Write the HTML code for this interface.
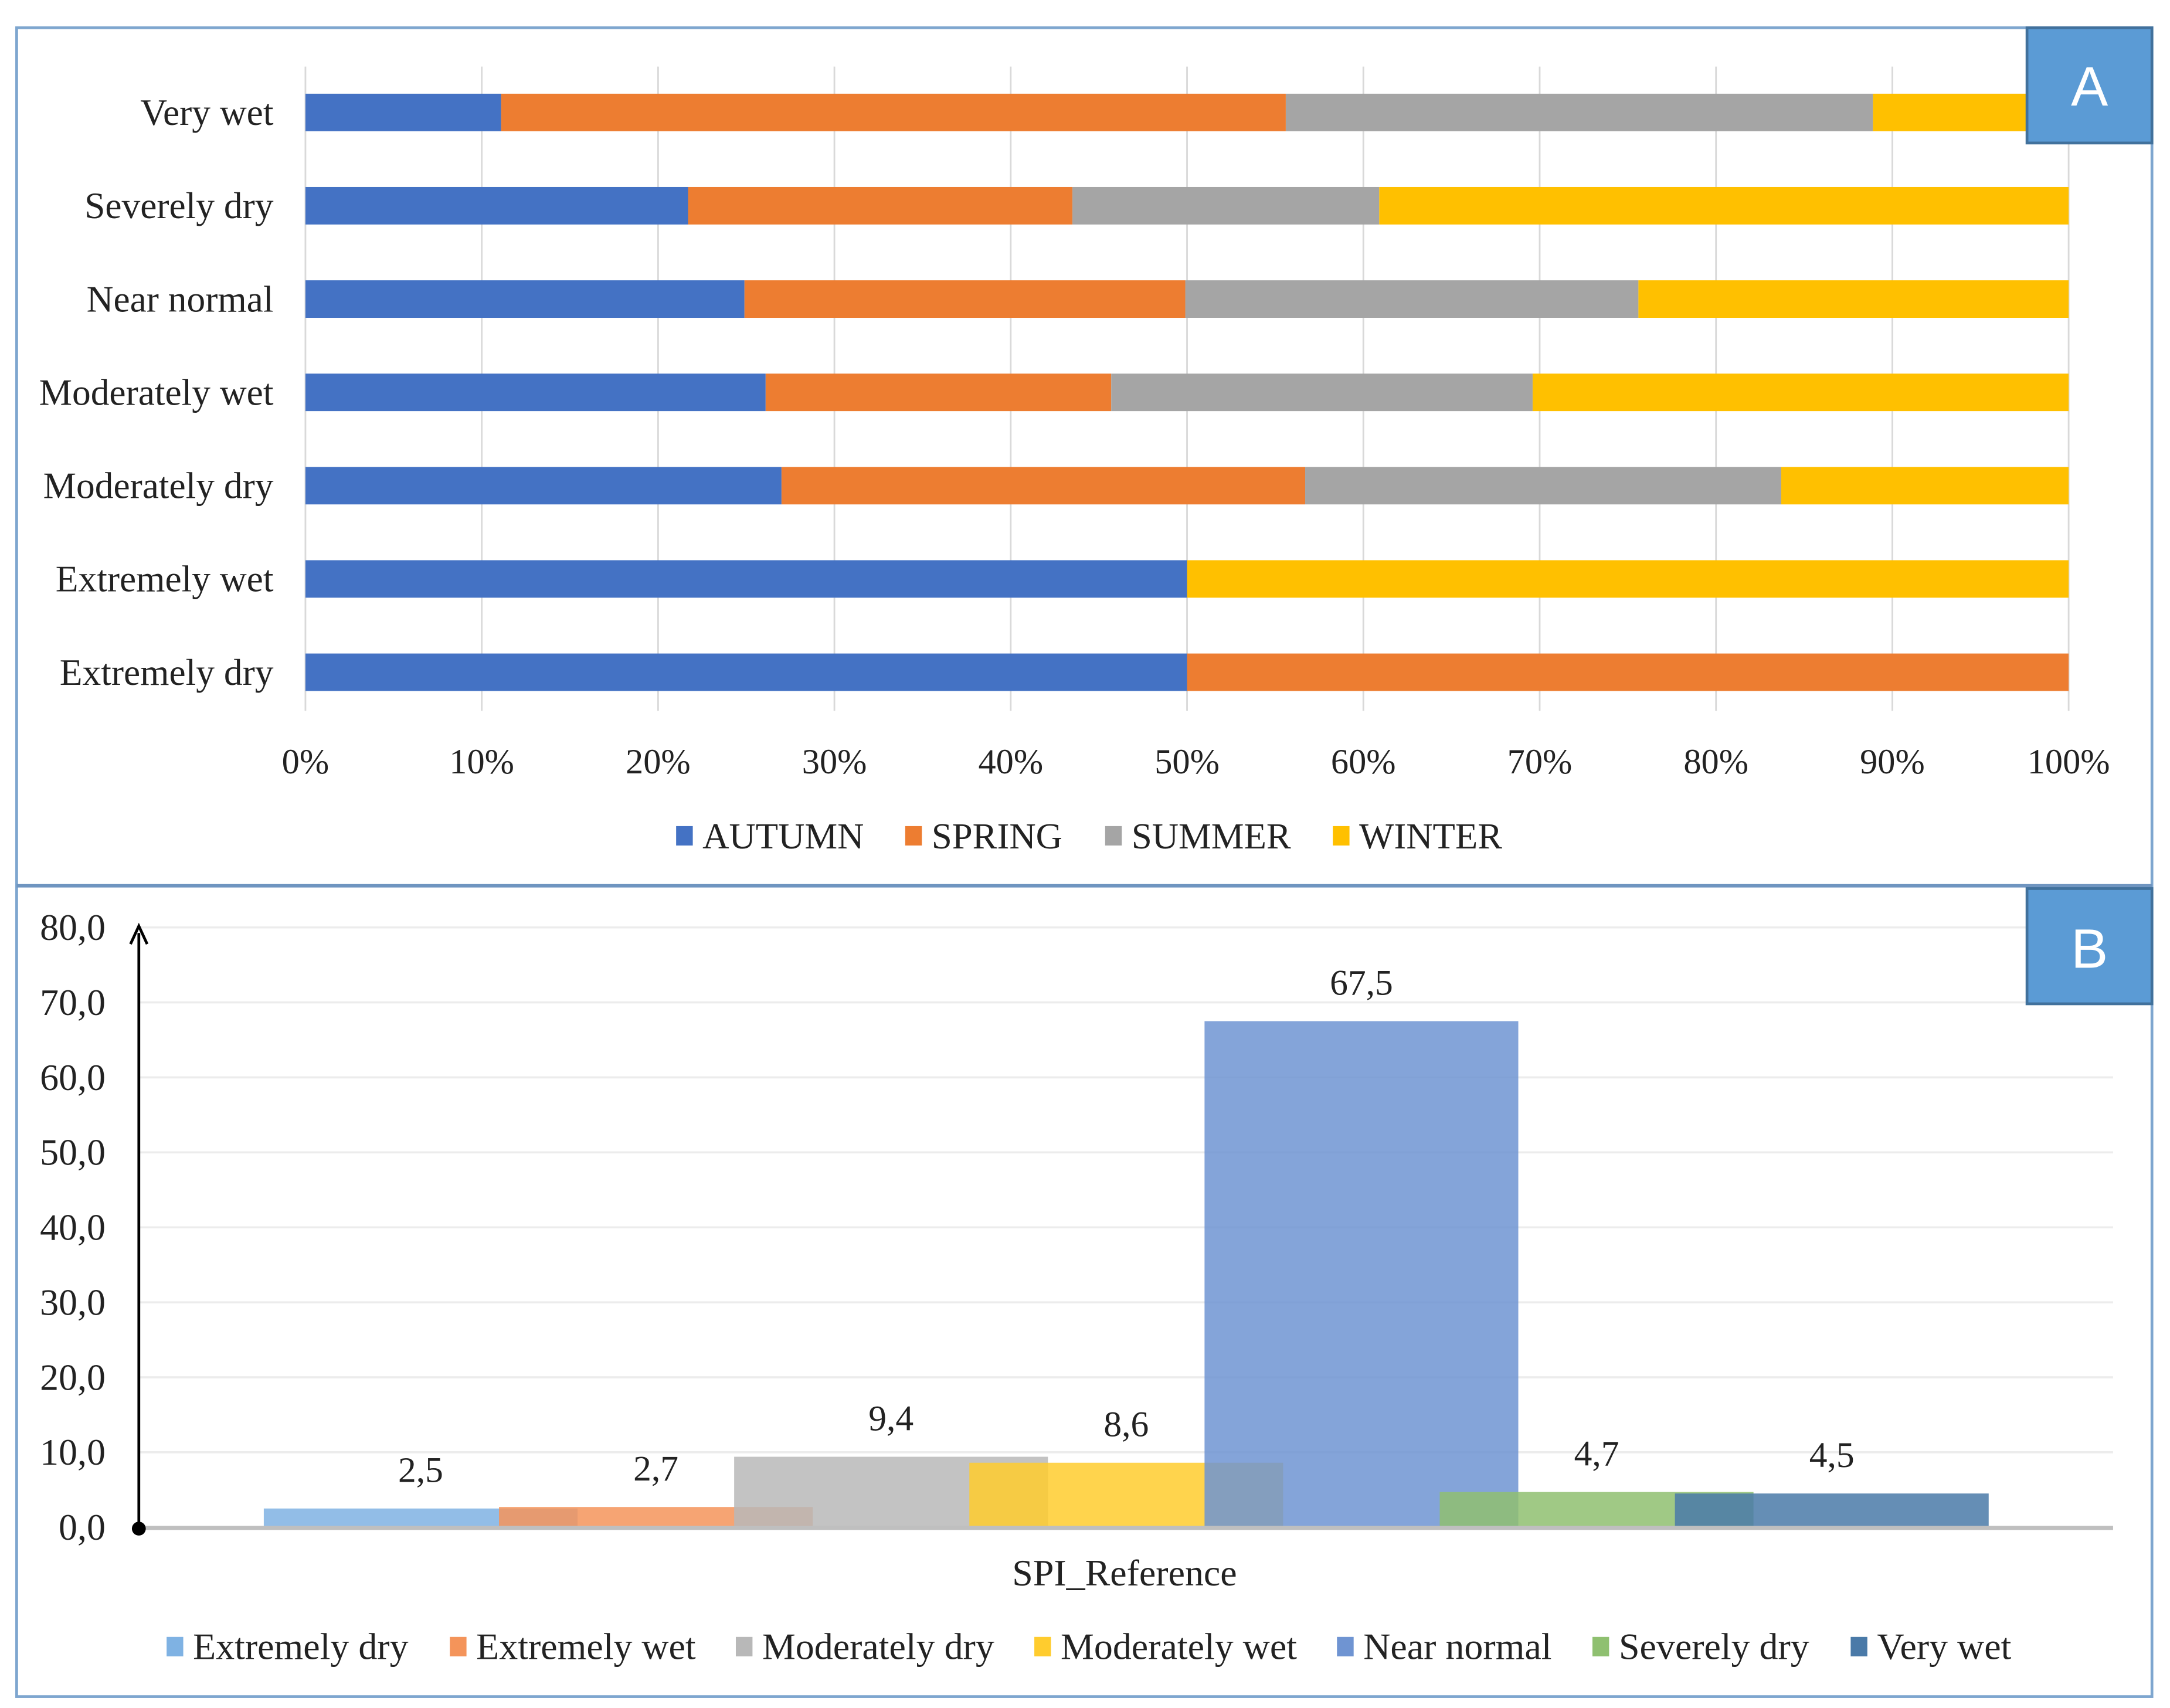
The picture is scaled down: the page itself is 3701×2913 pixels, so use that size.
<!DOCTYPE html>
<html><head><meta charset="utf-8"><style>
html,body{margin:0;padding:0;background:#fff}
svg{display:block}
text{font-family:"Liberation Serif",serif;fill:#222}
</style></head><body>
<svg id="s" width="3701" height="2913" viewBox="0 0 1563 1230.2" preserveAspectRatio="none" xmlns="http://www.w3.org/2000/svg">
<rect x="0" y="0" width="1563" height="1231" fill="#fff"/>
<rect x="12" y="20" width="1538" height="1202" fill="none" stroke="#7ea6cf" stroke-width="2"/>
<line x1="12" y1="638" x2="1550" y2="638" stroke="#6f95c0" stroke-width="2.5"/>
<g id="A"></g>
<g id="B"></g>
<rect x="1460" y="20" width="90" height="83" fill="#5b9bd5" stroke="#41719c" stroke-width="2"/>
<text x="1505" y="76" text-anchor="middle" style="font-family:'Liberation Sans',sans-serif;font-size:40px;fill:#fff">A</text>
<rect x="1460" y="640" width="90" height="83" fill="#5b9bd5" stroke="#41719c" stroke-width="2"/>
<text x="1505" y="697" text-anchor="middle" style="font-family:'Liberation Sans',sans-serif;font-size:40px;fill:#fff">B</text>
</svg>
<script>
const catsA=["Very wet","Severely dry","Near normal","Moderately wet","Moderately dry","Extremely wet","Extremely dry"];
const seriesA=["AUTUMN","SPRING","SUMMER","WINTER"];
const autumn=[11.1,21.7,24.9,26.1,27.0,50,50];
const spring=[44.5,21.8,25.0,19.6,29.7,0,50];
const summer=[33.3,17.4,25.7,23.9,27.0,0,0];
const winter=[11.1,39.1,24.4,30.4,16.3,50,0];
const ticksA=[0,10,20,30,40,50,60,70,80,90,100];
const colA=["#4472c4","#ed7d31","#a5a5a5","#ffc000"];

const catsB=["Extremely dry","Extremely wet","Moderately dry","Moderately wet","Near normal","Severely dry","Very wet"];
const valsB=[2.5,2.7,9.4,8.6,67.5,4.7,4.5];
const labelsB=["2,5","2,7","9,4","8,6","67,5","4,7","4,5"];
const ticksB=[0,10,20,30,40,50,60,70,80];
const colB=["#7fb2e3","#f4945a","#b8b8b8","#ffcc2e","#6f94d2","#8fc070","#4a7aa8"];

const NS="http://www.w3.org/2000/svg";
function mk(p,t,a,txt){const e=document.createElementNS(NS,t);for(const k in a)e.setAttribute(k,a[k]);if(txt!==undefined)e.textContent=txt;p.appendChild(e);return e;}

// Panel A
const A=document.getElementById('A');
const xA=v=>220+v/100*1270;
const yA=i=>81+i*67.2;
ticksA.forEach(t=>{
  const g=mk(A,'line',{x1:xA(t),x2:xA(t),y1:48,y2:512,stroke:'#d9d9d9','stroke-width':1.2});
  
  
  const l=mk(A,'text',{x:xA(t),y:557,'text-anchor':'middle','font-size':25.5},t+'%');
  
  
});
const seriesVals=[autumn,spring,summer,winter];
catsA.forEach((c,i)=>{
  const l=mk(A,'text',{x:197,y:yA(i)+9,'text-anchor':'end','font-size':26.8},c);
  
  
  let acc=0;
  seriesVals.forEach((s,j)=>{
    const v=s[i];
    if(v>0){
      const r=mk(A,'rect',{x:xA(acc),y:yA(i)-13.5,width:xA(acc+v)-xA(acc),height:27,fill:colA[j]});
      
      
    }
    acc+=v;
  });
});
const legX=[487,652,796,960];
seriesA.forEach((s,j)=>{
  const r=mk(A,'rect',{x:legX[j],y:595,width:12,height:14,fill:colA[j]});
  
  
  const t=mk(A,'text',{x:legX[j]+19,y:611,'font-size':26.5},s);
  
  
});

// Panel B
const B=document.getElementById('B');
const yB=v=>1100-v*5.4;
const bx=i=>190+i*169.4;
const bw=226;
ticksB.forEach(t=>{
  if(t>0){const g=mk(B,'line',{x1:100,x2:1522,y1:yB(t),y2:yB(t),stroke:'#ececec','stroke-width':1.5});
  
  }
  const l=mk(B,'text',{x:76,y:yB(t)+9,'text-anchor':'end','font-size':27},t.toFixed(1).replace('.',','));
  
  
});
catsB.forEach((c,i)=>{
  const r=mk(B,'rect',{x:bx(i),y:yB(valsB[i]),width:bw,height:yB(0)-yB(valsB[i]),fill:colB[i],'fill-opacity':0.85});
  
  
  const t=mk(B,'text',{x:bx(i)+bw/2,y:yB(valsB[i])-19,'text-anchor':'middle','font-size':26},labelsB[i]);
  
  
});
const ax=mk(B,'line',{x1:100,x2:1522,y1:1100.5,y2:1100.5,stroke:'#bfbfbf','stroke-width':3});


const ya=mk(B,'line',{x1:100,x2:100,y1:1100,y2:672,stroke:'#000','stroke-width':2});


const ah=mk(B,'path',{d:'M94,680 L100,667 L106,680',fill:'none',stroke:'#000','stroke-width':2});


const dot=mk(B,'circle',{cx:100,cy:1101,r:5,fill:'#000'});


const xt=mk(B,'text',{x:810,y:1142,'text-anchor':'middle','font-size':27},'SPI_Reference');


const legBX=[120,324,530,745,963,1147,1333];
catsB.forEach((c,i)=>{
  const r=mk(B,'rect',{x:legBX[i],y:1179,width:12,height:14,fill:colB[i]});
  
  
  const t=mk(B,'text',{x:legBX[i]+19,y:1195,'font-size':27},c);
  
  
});
</script>
</body></html>
